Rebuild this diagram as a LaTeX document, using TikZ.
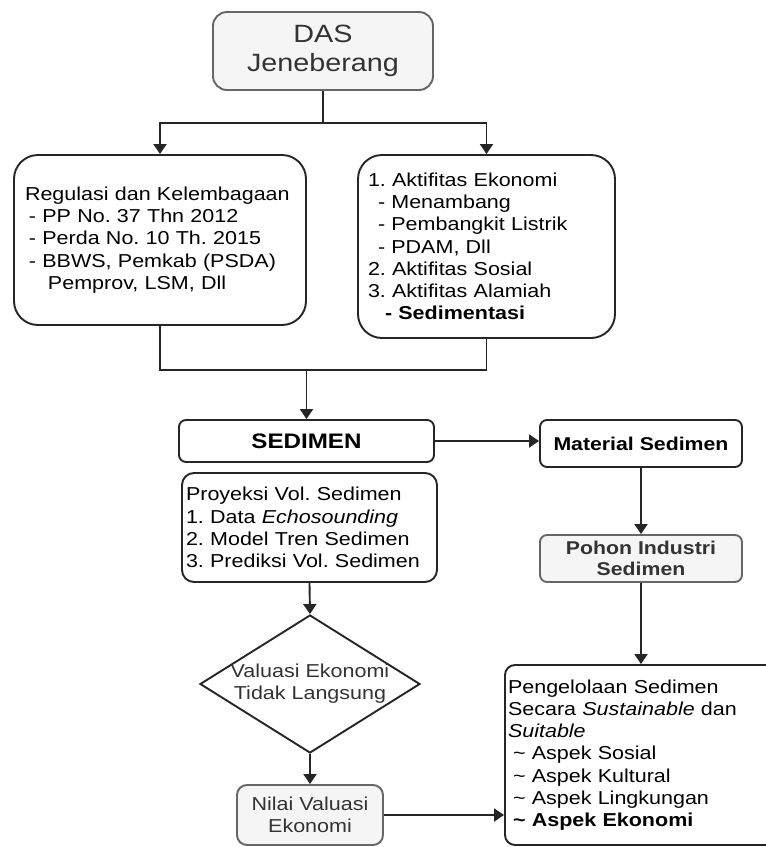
\documentclass[tikz,border=0pt]{standalone}
\usepackage{fontspec}
\setmainfont{Liberation Sans}[FakeStretch=1.15]
\usetikzlibrary{arrows.meta,shapes.geometric}
\definecolor{boxgray}{HTML}{F5F5F5}
\definecolor{edgegray}{HTML}{666666}
\definecolor{txtgray}{HTML}{333333}
\newcommand{\bodyfnt}{\fontsize{18.7}{22.2}\selectfont}
\newcommand{\dasfnt}{\fontsize{25}{29}\selectfont}
\newcommand{\sedfnt}{\fontsize{21}{25}\selectfont\bfseries}
\newcommand{\boldfnt}{\fontsize{18.5}{20.5}\selectfont\bfseries}
\frenchspacing
\begin{document}
\begin{tikzpicture}[x=1pt,y=-1pt,
  conn/.style={draw=black!85, line width=1.9pt},
  arr/.style={conn, -{Triangle[length=10pt,width=13pt]}},
  wbox/.style={draw=black!85, line width=1.9pt, fill=white, inner ysep=0pt},
  gbox/.style={draw=edgegray, line width=1.9pt, fill=boxgray, text=txtgray, inner ysep=0pt}]
\useasboundingbox (0,0) rectangle (766,847);
\clip (0,0) rectangle (766,847);
\fill[white] (0,0) rectangle (766,847);

% boxes
\node[gbox, rounded corners=14pt, minimum width=220pt, minimum height=78pt,
      font=\dasfnt, align=center] (das) at (323,51) {DAS\\Jeneberang};

\node[wbox, rounded corners=24pt, minimum width=292pt, minimum height=170pt,
      text width=270pt, inner xsep=11pt, align=left, font=\bodyfnt] (lbox) at (160,240)
  {Regulasi dan Kelembagaan\\
   \hspace*{4pt}- PP No. 37 Thn 2012\\
   \hspace*{4pt}- Perda No. 10 Th. 2015\\
   \hspace*{4pt}- BBWS, Pemkab (PSDA)\\
   \hspace*{23pt}Pemprov, LSM, Dll};

\node[wbox, rounded corners=24pt, minimum width=257pt, minimum height=183pt,
      text width=237pt, inner xsep=10pt, align=left, font=\bodyfnt] (rbox) at (486.5,246.5)
  {1. Aktifitas Ekonomi\\
   \hspace*{10pt}- Menambang\\
   \hspace*{10pt}- Pembangkit Listrik\\
   \hspace*{10pt}- PDAM, Dll\\
   2. Aktifitas Sosial\\
   3. Aktifitas Alamiah\\
   \hspace*{17pt}\textbf{- Sedimentasi}};

\node[wbox, rounded corners=7pt, minimum width=255pt, minimum height=42pt,
      font=\sedfnt] (sed) at (306.5,441) {SEDIMEN};

\node[wbox, rounded corners=12pt, minimum width=255pt, minimum height=109pt,
      text width=247pt, inner xsep=4pt, align=left, font=\bodyfnt] (proy) at (309.5,527.5)
  {Proyeksi Vol. Sedimen\\
   1. Data \textit{Echosounding}\\
   2. Model Tren Sedimen\\
   3. Prediksi Vol. Sedimen};

\node[wbox, rounded corners=7pt, minimum width=202pt, minimum height=47pt,
      font=\boldfnt] (mat) at (641,443.5) {Material Sedimen};

\node[gbox, rounded corners=7pt, minimum width=202pt, minimum height=47pt,
      font=\boldfnt, align=center] (poh) at (641,558.5) {Pohon Industri\\Sedimen};

\node[draw=black!85, line width=1.9pt, diamond, minimum width=220pt, minimum height=138pt,
      inner sep=0pt] (dia) at (310,684) {};
\node[font=\bodyfnt, align=center, text=txtgray, inner sep=0pt] (diat) at (dia.center)
  {Valuasi Ekonomi\\Tidak Langsung};

\node[gbox, rounded corners=10pt, minimum width=146pt, minimum height=60pt,
      font=\bodyfnt, align=center] (nil) at (310,815) {Nilai Valuasi\\Ekonomi};

\node[wbox, rounded corners=10pt, minimum width=285pt, minimum height=180pt,
      text width=279pt, inner xsep=3pt, align=left, font=\bodyfnt] (fin) at (647.5,755)
  {Pengelolaan Sedimen\\
   Secara \textit{Sustainable} dan\\
   \textit{Suitable}\\
   \hspace*{5pt}\textasciitilde{} Aspek Sosial\\
   \hspace*{5pt}\textasciitilde{} Aspek Kultural\\
   \hspace*{5pt}\textasciitilde{} Aspek Lingkungan\\
   \hspace*{5pt}\textbf{\textasciitilde{} Aspek Ekonomi}};

% connectors
\coordinate (split) at (323,123);
\coordinate (mrg) at (306.5,370);
\draw[conn] (das.south) -- (split);
\draw[arr] (split) -| (lbox.north);
\draw[arr] (split) -| (rbox.north);
\draw[conn] (lbox.south) |- (mrg) -| (rbox.south);
\draw[arr] (mrg) -- (sed.north);
\draw[arr] (sed.east) -- (sed.east -| mat.west);
\draw[arr] (mat.south) -- (poh.north);
\draw[arr] (poh.south) -- (poh.south |- fin.north);
\draw[arr] (proy.south) -- (dia.north);
\draw[arr] (dia.south) -- (nil.north);
\draw[arr] (nil.east) -- (nil.east -| fin.west);
\end{tikzpicture}
\end{document}
